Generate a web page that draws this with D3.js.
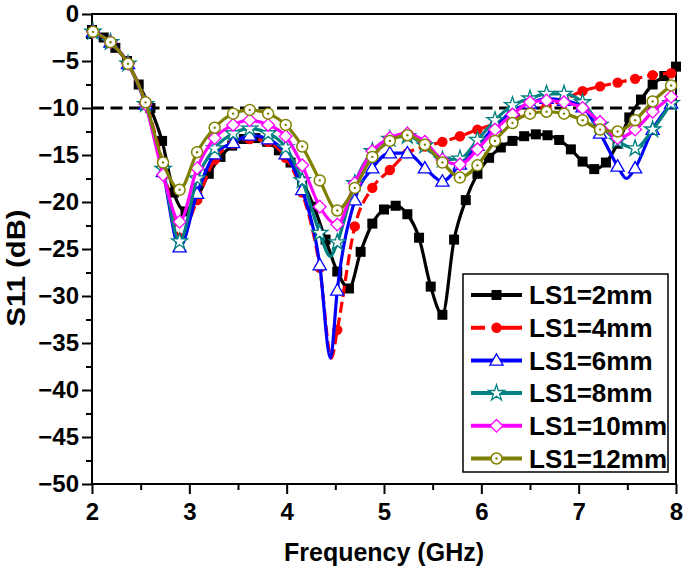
<!DOCTYPE html>
<html>
<head>
<meta charset="utf-8">
<script src="https://cdn.jsdelivr.net/npm/d3@7"></script>
<style>
  body { margin: 0; background: #fff; }
  text { font-family: "Liberation Sans", Arial, sans-serif; font-weight: bold; }
</style>
</head>
<body>
<div id="chart"></div>
<script>
// marker frequencies (GHz)
const freqBlack = [2.00, 2.12, 2.24, 2.36, 2.48, 2.60, 2.72, 2.84, 2.96, 3.08, 3.20, 3.32, 3.44, 3.56, 3.68, 3.80,
  3.92, 4.04, 4.16, 4.28, 4.40, 4.52, 4.64, 4.76, 4.88, 5.00, 5.12, 5.24, 5.36, 5.48, 5.60, 5.72, 5.84, 5.96,
  6.08, 6.20, 6.32, 6.44, 6.56, 6.68, 6.80, 6.92, 7.04, 7.16, 7.28, 7.40, 7.52, 7.64, 7.76, 7.88, 8.00];
const freqGrid = [2.01, 2.19, 2.37, 2.55, 2.73, 2.90, 3.08, 3.26, 3.45, 3.62, 3.81, 3.99, 4.16, 4.34, 4.52, 4.70,
  4.88, 5.06, 5.24, 5.42, 5.60, 5.78, 5.96, 6.14, 6.32, 6.50, 6.67, 6.85, 7.04, 7.22, 7.40, 7.58, 7.76, 7.95];

// S11 values (dB)
const ls2 = [-1.7, -2.5, -3.6, -5.0, -7.5, -10.0, -13.5, -19.0, -21.0, -19.5, -17.0, -15.2, -14.0, -13.3, -13.2, -13.6,
  -14.5, -15.8, -17.8, -20.5, -24.0, -27.4, -29.2, -25.3, -22.3, -20.8, -20.4, -21.3, -23.8, -29.0, -32.0, -24.0, -19.8, -17.0,
  -15.3, -14.2, -13.5, -13.0, -12.8, -12.9, -13.4, -14.4, -15.7, -16.5, -15.8, -13.8, -11.0, -9.1, -7.5, -6.6, -5.6];
const ls4 = [-1.9, -3.0, -5.3, -9.4, -16.0, -23.8, -19.8, -15.5, -13.8, -13.3, -13.6, -15.3, -19.0, -27.0, -33.6, -22.6,
  -18.5, -16.6, -14.8, -14.1, -13.6, -13.0, -12.3, -11.7, -11.0, -10.4, -9.8, -9.1, -8.2, -7.7, -7.3, -6.9, -6.5, -6.3];
const ls6 = [-1.9, -3.0, -5.3, -9.6, -16.8, -24.8, -19.1, -14.9, -13.7, -12.9, -13.3, -14.9, -18.7, -26.7, -29.4, -19.8,
  -16.4, -14.8, -14.8, -16.4, -17.8, -16.0, -14.0, -12.0, -10.3, -9.5, -9.0, -9.2, -9.9, -12.7, -16.2, -16.4, -12.3, -9.5];
const ls8 = [-1.9, -3.0, -5.3, -9.6, -16.5, -24.2, -17.5, -14.3, -12.7, -12.2, -12.7, -14.2, -17.7, -23.3, -24.3, -18.0,
  -14.6, -13.3, -13.0, -14.0, -15.5, -15.4, -13.4, -11.3, -9.7, -9.0, -8.5, -8.5, -9.4, -11.8, -13.5, -14.3, -12.3, -9.5];
const ls10 = [-1.9, -3.0, -5.3, -9.6, -17.1, -22.1, -16.4, -13.2, -11.8, -11.3, -11.8, -13.0, -16.1, -20.5, -22.4, -18.0,
  -14.6, -13.2, -12.7, -13.6, -15.5, -16.0, -14.4, -12.3, -10.7, -9.4, -9.2, -9.4, -10.0, -11.5, -13.2, -12.3, -10.4, -8.8];
const ls12 = [-1.9, -3.0, -5.3, -9.4, -15.8, -18.7, -14.7, -12.1, -10.6, -10.2, -10.6, -11.8, -14.1, -17.7, -20.9, -18.5,
  -15.2, -13.5, -12.9, -13.9, -15.8, -17.4, -16.1, -13.5, -11.6, -10.6, -10.4, -10.6, -11.3, -12.3, -12.5, -11.3, -9.3, -7.6];

// resonance minima between markers (line only)
const dips4 = [[4.46, -36.6]];
const dips6 = [[4.45, -36.6], [7.49, -17.5]];
const dips8 = [[4.45, -25.8]];

const xTicks = [2, 3, 4, 5, 6, 7, 8];
const yTicks = [0, -5, -10, -15, -20, -25, -30, -35, -40, -45, -50];
const legendLabels = ['LS1=2mm', 'LS1=4mm', 'LS1=6mm', 'LS1=8mm', 'LS1=10mm', 'LS1=12mm'];

const series = [
  { f: freqBlack, v: ls2, dips: [], color: '#000000', symbol: 'square' },
  { f: freqGrid, v: ls4, dips: dips4, color: '#ff0000', symbol: 'dot', dash: '11,5' },
  { f: freqGrid, v: ls6, dips: dips6, color: '#0000ff', symbol: 'triangle' },
  { f: freqGrid, v: ls8, dips: dips8, color: '#008080', symbol: 'star' },
  { f: freqGrid, v: ls10, dips: [], color: '#ff00ff', symbol: 'diamond' },
  { f: freqGrid, v: ls12, dips: [], color: '#808000', symbol: 'ocircle' }
];

const W = 685, H = 573;
const margin = { top: 14, right: 9, bottom: 89, left: 92 };
const width = W - margin.left - margin.right,
  height = H - margin.top - margin.bottom;

const svg = d3.select('#chart').append('svg')
  .attr('width', W)
  .attr('height', H);

const g = svg.append('g')
  .attr('transform', 'translate(' + margin.left + ',' + margin.top + ')');

const x = d3.scaleLinear().domain([2, 8]).range([0, width]);
const y = d3.scaleLinear().domain([-50, 0]).range([height, 0]);

// minor ticks
g.append('g')
  .attr('transform', 'translate(0,' + height + ')')
  .call(d3.axisBottom(x).tickValues(d3.range(2.5, 8, 1)).tickSize(6).tickFormat(''))
  .call(a => a.select('.domain').remove())
  .selectAll('line').attr('stroke-width', 2);
g.append('g')
  .call(d3.axisLeft(y).tickValues(d3.range(-47.5, 0, 5)).tickSize(6).tickFormat(''))
  .call(a => a.select('.domain').remove())
  .selectAll('line').attr('stroke-width', 2);

// major ticks
const xAxis = g.append('g')
  .attr('transform', 'translate(0,' + height + ')')
  .call(d3.axisBottom(x).tickValues(xTicks).tickSize(10).tickPadding(9).tickFormat(d3.format('d')));
xAxis.select('.domain').remove();
xAxis.selectAll('line').attr('stroke-width', 2);
xAxis.selectAll('text').attr('font-size', 24).attr('fill', '#000');

const yAxis = g.append('g')
  .call(d3.axisLeft(y).tickValues(yTicks).tickSize(10).tickPadding(3).tickFormat(d3.format('d')));
yAxis.select('.domain').remove();
yAxis.selectAll('line').attr('stroke-width', 2);
yAxis.selectAll('text').attr('font-size', 24).attr('fill', '#000');

// frame
g.append('rect')
  .attr('width', width)
  .attr('height', height)
  .attr('fill', 'none')
  .attr('stroke', '#000')
  .attr('stroke-width', 2);

// -10 dB reference
g.append('line')
  .attr('x1', x(2)).attr('x2', x(8))
  .attr('y1', y(-10)).attr('y2', y(-10))
  .attr('stroke', '#000')
  .attr('stroke-width', 3)
  .attr('stroke-dasharray', '12,6.5');

const line = d3.line()
  .x(d => x(d[0]))
  .y(d => y(d[1]))
  .curve(d3.curveMonotoneX);

function drawMarker(sel, s) {
  const c = s.color;
  if (s.symbol === 'square') {
    sel.append('path').attr('d', d3.symbol(d3.symbolSquare, 100)()).attr('fill', c);
  } else if (s.symbol === 'dot') {
    sel.append('circle').attr('r', 5.2).attr('fill', c);
  } else if (s.symbol === 'triangle') {
    sel.append('path').attr('d', d3.symbol(d3.symbolTriangle, 75)()).attr('transform', 'translate(0,1)')
      .attr('fill', '#fff').attr('stroke', c).attr('stroke-width', 1.3);
  } else if (s.symbol === 'star') {
    sel.append('path').attr('d', d3.symbol(d3.symbolStar, 80)())
      .attr('fill', '#fff').attr('stroke', c).attr('stroke-width', 1.3);
  } else if (s.symbol === 'diamond') {
    sel.append('path').attr('d', d3.symbol(d3.symbolSquare, 80)()).attr('transform', 'rotate(45)')
      .attr('fill', '#fff').attr('stroke', c).attr('stroke-width', 1.3);
  } else {
    sel.append('circle').attr('r', 5.5).attr('fill', '#fff').attr('stroke', c).attr('stroke-width', 1.5);
    sel.append('circle').attr('r', 1.2).attr('fill', c);
  }
}

series.forEach(s => {
  const pts = s.f.map((f, i) => [f, s.v[i]]).concat(s.dips).sort((a, b) => a[0] - b[0]);
  g.append('path')
    .datum(pts)
    .attr('fill', 'none')
    .attr('stroke', s.color)
    .attr('stroke-width', 3.2)
    .attr('stroke-dasharray', s.dash || null)
    .attr('d', line);
  g.selectAll(null)
    .data(s.f.map((f, i) => [f, s.v[i]]))
    .enter().append('g')
    .attr('transform', d => 'translate(' + x(d[0]) + ',' + y(d[1]) + ')')
    .each(function () { drawMarker(d3.select(this), s); });
});

// legend
const lg = svg.append('g').attr('transform', 'translate(463,274)');
lg.append('rect')
  .attr('width', 205).attr('height', 198)
  .attr('fill', '#fff').attr('stroke', '#000').attr('stroke-width', 1.5);
series.forEach((s, i) => {
  const row = lg.append('g').attr('transform', 'translate(0,' + (21 + i * 32.7) + ')');
  row.append('line')
    .attr('x1', 8).attr('x2', 59)
    .attr('stroke', s.color).attr('stroke-width', 4)
    .attr('stroke-dasharray', s.dash ? '14,8,30' : null);
  drawMarker(row.append('g').attr('transform', 'translate(33.5,0)'), s);
  row.append('text')
    .attr('x', 66).attr('dy', '0.36em')
    .attr('font-size', 26)
    .text(legendLabels[i]);
});

// axis titles
svg.append('text')
  .attr('x', margin.left + width / 2).attr('y', 561)
  .attr('text-anchor', 'middle').attr('font-size', 25)
  .text('Frequency (GHz)');
svg.append('text')
  .attr('transform', 'translate(25,268) rotate(-90)')
  .attr('text-anchor', 'middle').attr('font-size', 25)
  .attr('textLength', 117).attr('lengthAdjust', 'spacingAndGlyphs')
  .text('S11 (dB)');
</script>
</body>
</html>
